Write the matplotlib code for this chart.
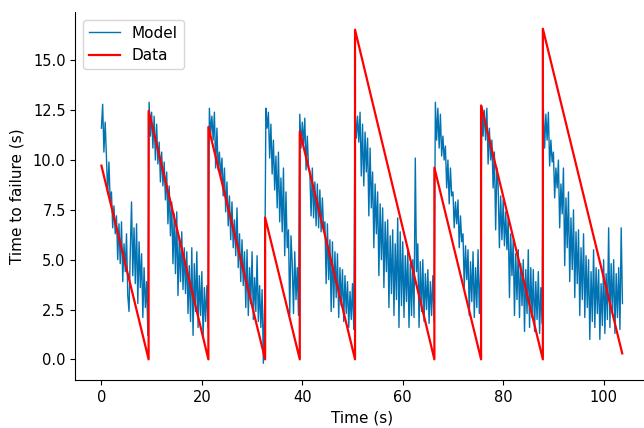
import numpy as np
import matplotlib
matplotlib.use("Agg")
import matplotlib.pyplot as plt

model_step = 0.25
model_values = [
    11.6, 12.8, 10.4, 11.9,   10.2, 8.3, 9.9, 7.9,     8.4, 6.6, 7.7, 6.3,
    7.2, 5.0, 6.8, 4.8,       6.9, 3.9, 5.8, 4.4,      6.3, 3.2, 2.4, 5.4,
    7.9, 4.2, 6.6, 3.8,       6.8, 2.8, 5.9, 3.6,      5.3, 2.1, 4.6, 2.6,
    3.9, 1.2, 12.9, 11.2,     12.4, 10.6, 12.2, 10.0,  11.8, 9.8, 10.9, 8.9,
    10.4, 8.7, 9.9, 8.0,      9.4, 6.8, 8.7, 6.2,      7.9, 4.8, 7.3, 4.3,
    7.4, 3.2, 6.1, 3.9,       6.4, 3.5, 5.6, 3.3,      5.4, 2.3, 4.7, 1.9,
    5.6, 1.2, 4.8, 2.4,       5.4, 1.6, 4.2, 2.2,      4.4, 1.1, 3.6, 1.9,
    3.7, 1.6, 12.6, 11.3,     12.2, 11.0, 12.4, 9.6,   11.6, 9.5, 10.4, 9.1,
    10.1, 8.2, 9.6, 7.4,      8.9, 6.7, 8.2, 6.0,      7.9, 5.6, 7.0, 5.2,
    7.6, 4.6, 6.3, 3.9,       6.0, 3.7, 5.4, 2.6,      5.5, 2.2, 4.6, 2.8,
    5.4, 2.0, 4.1, 2.4,       5.2, 1.9, 3.7, 1.6,      3.5, -0.2, 2.8, 12.6,
    11.6, 12.4, 10.1, 11.8,   9.3, 11.0, 8.5, 10.2,    7.6, 10.4, 6.9, 9.1,
    6.4, 9.6, 5.2, 8.4,       5.6, 6.5, 2.2, 6.2,      4.8, 2.3, 5.4, 3.0,
    4.6, 2.2, 12.3, 10.6,     11.9, 10.8, 12.1, 9.5,   11.2, 9.6, 9.4, 7.2,
    9.6, 7.1, 8.9, 6.7,       8.8, 6.6, 8.5, 6.4,      8.1, 6.5, 6.9, 3.8,
    6.8, 4.0, 6.0, 2.4,       5.9, 2.6, 5.4, 3.1,      5.3, 2.1, 4.6, 2.7,
    4.5, 1.9, 4.2, 2.3,       3.9, 1.6, 3.4, 2.0,      3.8, 1.5, 12.6, 11.1,
    12.2, 10.9, 12.4, 9.2,    11.8, 8.7, 11.4, 9.4,    11.1, 7.2, 10.6, 7.6,
    9.4, 5.6, 8.8, 6.3,       8.4, 4.2, 7.8, 5.0,      7.6, 3.6, 6.9, 4.4,
    7.0, 2.6, 6.2, 3.3,       6.5, 2.2, 5.8, 3.0,      7.1, 1.6, 6.4, 2.7,
    5.9, 2.1, 5.2, 2.9,       5.5, 1.6, 4.8, 2.2,      5.0, 2.1, 10.1, 4.4,
    5.8, 1.6, 4.9, 2.4,       5.0, 1.9, 4.3, 2.5,      4.5, 1.8, 3.9, 2.2,
    4.2, 1.9, 12.9, 11.0,     12.6, 10.6, 12.3, 10.2,  11.2, 10.0, 10.7, 8.6,
    10.0, 7.8, 9.6, 8.2,      8.4, 6.6, 7.9, 6.8,      8.0, 5.6, 7.2, 5.9,
    6.3, 3.6, 5.7, 4.0,       5.5, 2.2, 4.9, 2.9,      5.4, 2.1, 4.6, 2.6,
    5.5, 2.3, 4.4, 12.7,      11.2, 12.5, 11.0, 12.6,  9.8, 11.6, 10.0, 11.0,
    8.6, 10.4, 6.5, 9.6,      8.7, 5.6, 8.2, 6.0,      8.0, 5.7, 7.4, 5.5,
    7.1, 3.1, 6.3, 4.2,       6.0, 2.2, 5.3, 3.0,      5.5, 2.1, 4.8, 2.7,
    5.0, 1.4, 4.5, 2.3,       5.5, 1.6, 4.6, 2.1,      4.5, 1.4, 3.9, 2.0,
    4.4, 1.3, 3.6, 1.8,       12.6, 10.6, 12.3, 11.0,  12.4, 9.7, 11.0, 9.9,
    10.4, 8.1, 9.6, 8.6,      10.0, 6.6, 8.8, 7.3,     9.6, 4.7, 8.1, 5.6,
    8.4, 3.9, 7.1, 4.5,       7.5, 3.1, 6.4, 3.8,      6.5, 2.2, 5.6, 3.0,
    6.3, 2.1, 5.2, 2.6,       5.0, 1.0, 4.4, 1.9,      5.5, 1.6, 4.6, 2.3,
    4.5, 1.0, 3.8, 1.7,       5.0, 1.3, 4.3, 2.0,      6.6, 1.6, 4.8, 2.4,
    5.0, 1.3, 4.3, 2.1,       4.6, 1.5, 6.6, 2.8,
]

# measured time to failure: failure times and the value right after each failure
data_start = 9.72
failure_times = [9.4, 21.3, 32.6, 39.5, 50.5, 66.3, 75.6, 87.9]
peak_values = [12.46, 11.66, 7.12, 11.44, 16.54, 9.62, 12.74, 16.59]
data_end_time = 103.7
data_end_value = 0.3

model_t = np.arange(len(model_values)) * model_step

data_t = [0.0]
data_y = [data_start]
for ft, pk in zip(failure_times, peak_values):
    data_t += [ft, ft]
    data_y += [0.0, pk]
data_t.append(data_end_time)
data_y.append(data_end_value)

plt.rcParams.update({
    "xtick.labelsize": 10.5,
    "ytick.labelsize": 10.5,
    "axes.labelsize": 11,
    "legend.fontsize": 11})

fig = plt.figure(figsize=(6.44, 4.28), dpi=100)
ax = fig.add_axes([0.117, 0.112, 0.89, 0.86])

ax.plot(model_t, model_values, color='#0173b2', linewidth=1.0, label='Model')
ax.plot(data_t, data_y, color='red', linewidth=1.6, label='Data')

ax.set_xlabel('Time (s)')
ax.set_ylabel('Time to failure (s)', labelpad=6)
ax.spines['top'].set_visible(False)
ax.spines['right'].set_visible(False)
ax.legend(loc='upper left')

plt.savefig('out.png', dpi=100)
